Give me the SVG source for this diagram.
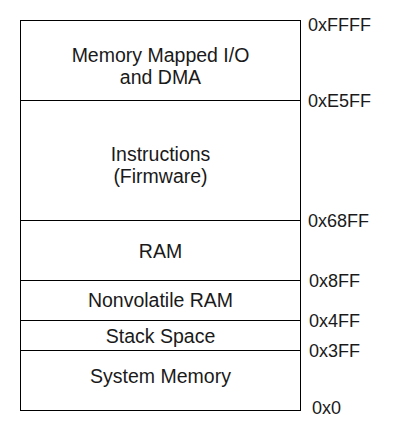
<svg xmlns="http://www.w3.org/2000/svg" width="401" height="431" viewBox="0 0 401 431">
<style>
.box{fill:#ffffff;stroke:#000000;stroke-width:1}
.t{font-family:"Liberation Sans",Arial,sans-serif;font-size:19.5px;fill:#1a1a1a;text-anchor:middle}
.a{font-family:"Liberation Sans",Arial,sans-serif;font-size:18px;fill:#1a1a1a}
</style>
<rect width="401" height="431" fill="#ffffff"/>
<g id="mmio"><rect class="box" x="20.5" y="20.5" width="280" height="80"/><text class="t" x="160.5" y="61.5">Memory Mapped I/O</text><text class="t" x="160.5" y="84">and DMA</text></g>
<g id="instructions"><rect class="box" x="20.5" y="100.5" width="280" height="120"/><text class="t" x="160.5" y="160.5">Instructions</text><text class="t" x="160.5" y="183">(Firmware)</text></g>
<g id="ram"><rect class="box" x="20.5" y="220.5" width="280" height="60"/><text class="t" x="160.5" y="258">RAM</text></g>
<g id="nvram"><rect class="box" x="20.5" y="280.5" width="280" height="40"/><text class="t" x="160.5" y="307">Nonvolatile RAM</text></g>
<g id="stack"><rect class="box" x="20.5" y="320.5" width="280" height="30"/><text class="t" x="160.5" y="343">Stack Space</text></g>
<g id="sysmem"><rect class="box" x="20.5" y="350.5" width="280" height="60"/><text class="t" x="160.5" y="383">System Memory</text></g>
<g id="addresses">
<text class="a" x="308" y="31">0xFFFF</text>
<text class="a" x="308" y="106.5">0xE5FF</text>
<text class="a" x="308" y="227">0x68FF</text>
<text class="a" x="309" y="287">0x8FF</text>
<text class="a" x="309" y="327">0x4FF</text>
<text class="a" x="309" y="356.5">0x3FF</text>
<text class="a" x="312" y="414">0x0</text>
</g>
</svg>
